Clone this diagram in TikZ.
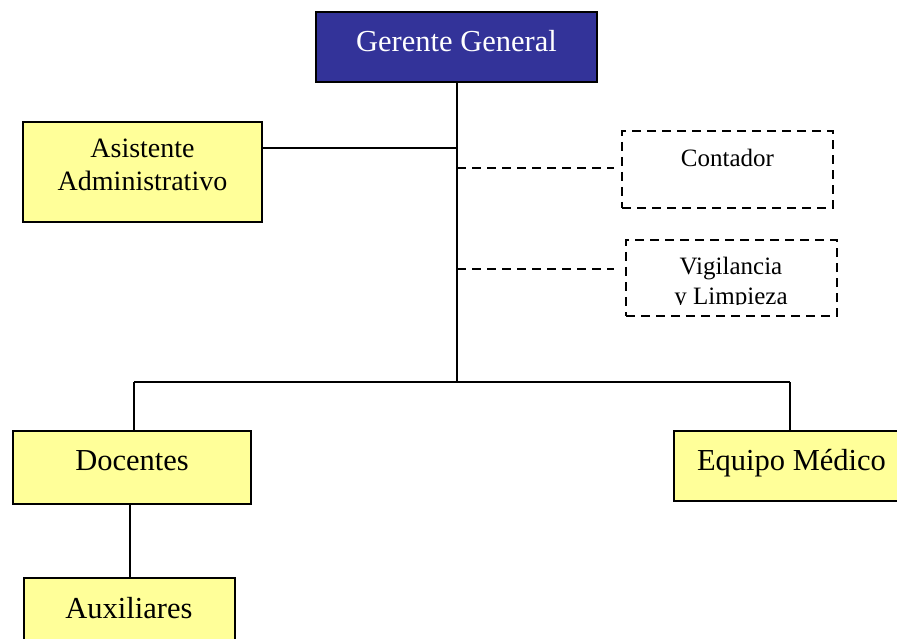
\documentclass[tikz,border=0pt]{standalone}
\usepackage{fontspec}
\setmainfont{Liberation Serif}
\definecolor{gblue}{HTML}{333399}
\definecolor{pyel}{HTML}{FFFF99}
\begin{document}
\begin{tikzpicture}[x=1pt,y=-1pt,
  solidbox/.style={draw=black, line width=1.7pt, inner sep=0pt},
  yelbox/.style={solidbox, fill=pyel},
  dashbox/.style={draw=black, line width=2.2pt, dash pattern=on 9pt off 6pt, inner sep=0pt},
  conn/.style={draw=black, line width=2.1pt},
  dconn/.style={conn, line width=2.2pt, dash pattern=on 9pt off 6pt},
  big/.style={anchor=base, inner sep=0pt, font=\fontsize{30.5}{36}\selectfont},
  mid/.style={anchor=base, inner sep=0pt, font=\fontsize{28}{33}\selectfont},
  small/.style={anchor=base, inner sep=0pt, font=\fontsize{25}{30}\selectfont}]
\useasboundingbox (0,0) rectangle (897,639);
\clip (0,0) rectangle (897,639);

% boxes
\node[solidbox, fill=gblue, minimum width=281pt, minimum height=70pt] (gg) at (456.5,47) {};
\node[yelbox, minimum width=239pt, minimum height=100pt] (asis) at (142.5,172) {};
\node[dashbox, minimum width=211pt, minimum height=77pt] (cont) at (727.5,169.5) {};
\node[dashbox, minimum width=211pt, minimum height=76pt] (vig) at (731.5,278) {};
\node[yelbox, minimum width=238pt, minimum height=73pt] (doc) at (132,467.5) {};
\node[yelbox, minimum width=211pt, minimum height=80pt] (aux) at (129.5,618) {};
\node[yelbox, minimum width=235pt, minimum height=70pt] (eq) at (791.5,466) {};

% texts
\node[big, text=white] (ggt) at (456.5,52) {Gerente General};
\node[mid] (asist1) at (142.5,158) {Asistente};
\node[mid] (asist2) at (142.5,191) {Administrativo};
\node[small] (contt) at (727.5,167) {Contador};
\begin{scope}
  \clip (626,240) rectangle (837,304);
  \node[small] (vigt1) at (731,274) {Vigilancia};
  \node[small] (vigt2) at (731,304) {y Limpieza};
\end{scope}
\node[big] (doct) at (132,470) {Docentes};
\node[big] (auxt) at (129,618) {Auxiliares};
\node[big] (eqt) at (791.5,470) {Equipo Médico};

% connectors
\coordinate (jtop) at (457,82);
\coordinate (jasis) at (457,148);
\coordinate (jcont) at (457,168);
\coordinate (jvig) at (457,269);
\coordinate (jbot) at (457,382);
\coordinate (cend) at (614,168);
\coordinate (vend) at (614,269);
\coordinate (bl) at (134,382);
\coordinate (br) at (790,382);

\path[conn] (jtop) -- (jbot);
\path[conn] (asis.east |- jasis) -- (jasis);
\path[dconn] (jcont) -- (cend);
\path[dconn] (jvig) -- (vend);
\path[conn] (bl) -- (br);
\path[conn] (bl) -- (bl |- doc.north);
\path[conn] (br) -- (br |- eq.north);
\path[conn] (130,504) coordinate (dbot) -- (dbot |- aux.north);
\end{tikzpicture}
\end{document}
